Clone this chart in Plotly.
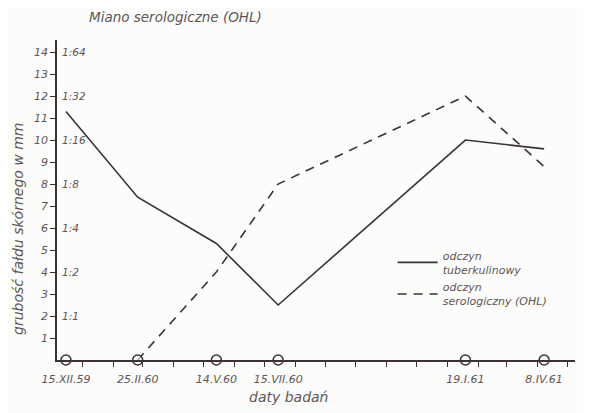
import plotly.graph_objects as go

dates = ["1959-12-15", "1960-02-25", "1960-05-14", "1960-07-15", "1961-01-19", "1961-04-08"]
date_labels = ["15.XII.59", "25.II.60", "14.V.60", "15.VII.60", "19.I.61", "8.IV.61"]
tuberculin_mm = [11.3, 7.4, 5.3, 2.5, 10.0, 9.6]
serology = [None, 0, 4, 8, 12, 8.8]
mm_ticks = list(range(1, 15))
titer_vals = [2, 4, 6, 8, 10, 12, 14]
titer_text = ["1:1", "1:2", "1:4", "1:8", "1:16", "1:32", "1:64"]
exam_marks = [0, 0, 0, 0, 0, 0]

INK = "#3b3333"
TXT = "#5e5656"
FONT = "DejaVu Sans"

fig = go.Figure()
fig.add_trace(go.Scatter(
    x=dates, y=tuberculin_mm, mode="lines",
    line=dict(color=INK, width=1.6),
    name="odczyn<br>tuberkulinowy", cliponaxis=False))
fig.add_trace(go.Scatter(
    x=dates, y=serology, mode="lines",
    line=dict(color=INK, width=1.6, dash="9px,7px"),
    name="odczyn<br>serologiczny (OHL)", cliponaxis=False))
fig.add_trace(go.Scatter(
    x=dates, y=exam_marks, mode="markers", showlegend=False,
    marker=dict(size=10, color="rgba(255,255,255,0.6)", line=dict(color=INK, width=1.5)),
    cliponaxis=False))

# browser body margin (8px) is compensated in the margins
OFF = 8
annotations = [
    dict(text=t, xref="paper", yref="y", x=0, y=v, xanchor="left",
         yanchor="middle", xshift=3, showarrow=False,
         font=dict(size=10.5, color=TXT, style="italic"))
    for v, t in zip(titer_vals, titer_text)
]
annotations += [
    dict(text="Miano serologiczne (OHL)", xref="paper", yref="paper",
         x=0.058, y=1.072, xanchor="left", yanchor="middle",
         showarrow=False, font=dict(size=13.5, color=TXT, style="italic")),
    dict(text="grubość fałdu skórnego w mm", xref="paper", yref="paper",
         x=-0.075, y=0.41, xanchor="center", yanchor="middle",
         textangle=-90, showarrow=False,
         font=dict(size=14, color=TXT, style="italic")),
    dict(text="daty badań", xref="paper", yref="paper",
         x=0.447, y=-0.116, xanchor="center", yanchor="middle",
         showarrow=False, font=dict(size=14, color=TXT, style="italic")),
]

yr = [0, 14.55]
fig.update_layout(
    template="none",
    width=591, height=413,
    margin=dict(l=57 - OFF, r=16 + OFF, t=40 - OFF, b=53 + OFF, autoexpand=False),
    paper_bgcolor="#fcfcfa", plot_bgcolor="#fcfcfa",
    font=dict(family=FONT, color=TXT, size=11, style="italic"),
    showlegend=True,
    legend=dict(x=0.648, y=0.37, xanchor="left", yanchor="top",
                bgcolor="rgba(0,0,0,0)", itemwidth=40,
                font=dict(size=11, color=TXT, style="italic"),
                tracegroupgap=4),
    xaxis=dict(
        type="date", range=["1959-12-06", "1961-05-09"], automargin=False,
        tickmode="array", tickvals=dates, ticktext=date_labels,
        ticks="", showgrid=False, zeroline=False,
        showline=True, linecolor=INK, linewidth=1.5,
        tickfont=dict(size=11, color=TXT, style="italic"),
        ticklabeloverflow="allow", ticklabelstandoff=8,
        minor=dict(dtick="M1", tick0="1960-01-01", ticks="outside",
                   ticklen=5, tickcolor=INK, tickwidth=1.2, showgrid=False),
    ),
    yaxis=dict(
        range=yr, tickmode="array", tickvals=mm_ticks, automargin=False,
        ticks="outside", ticklen=5, tickcolor=INK, tickwidth=1.2,
        showgrid=False, zeroline=False, showline=True,
        linecolor=INK, linewidth=1.5,
        tickfont=dict(size=11, color=TXT, style="italic"),
    ),
    annotations=annotations,
)

fig.write_html("out.html")
